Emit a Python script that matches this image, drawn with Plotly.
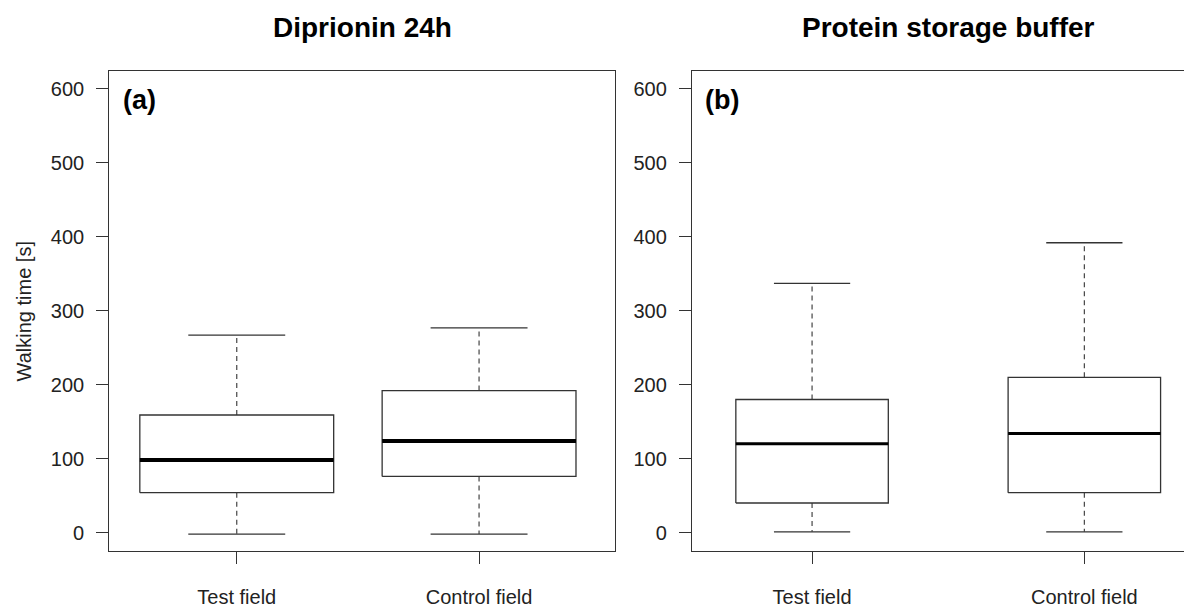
import plotly.graph_objects as go

# ---- data ----
categories = ["Test field", "Control field"]
positions = [1, 2]

# Panel (a): Diprionin 24h
a_lower = [-2, -2]
a_q1 = [54, 76]
a_median = [98, 124]
a_q3 = [159, 192]
a_upper = [267, 277]

# Panel (b): Protein storage buffer
b_lower = [1, 1]
b_q1 = [40, 54]
b_median = [120, 134]
b_q3 = [180, 210]
b_upper = [337, 392]

y_ticks = [0, 100, 200, 300, 400, 500, 600]
titles = ["Diprionin 24h", "Protein storage buffer"]
panel_tags = ["(a)", "(b)"]
y_label = "Walking time [s]"

# ---- figure ----
W, H = 1184, 608
FONT = "Liberation Sans, Arial, sans-serif"
LINE = "#333333"
TEXT = "#222222"

fig = go.Figure()


def add_boxes(xaxis, yaxis, lower, q1, med, q3, upper, half, cap_half, med_w):
    for i, c in enumerate(positions):
        # whiskers (dashed)
        for y0, y1 in [(q3[i], upper[i]), (q1[i], lower[i])]:
            fig.add_trace(go.Scatter(
                x=[c, c], y=[y0, y1], mode="lines", xaxis=xaxis, yaxis=yaxis,
                line=dict(color="#444444", width=1.2, dash="5px,4px"),
                hoverinfo="skip", showlegend=False))
        # caps
        for yv in [upper[i], lower[i]]:
            fig.add_trace(go.Scatter(
                x=[c - cap_half, c + cap_half], y=[yv, yv], mode="lines",
                xaxis=xaxis, yaxis=yaxis,
                line=dict(color=LINE, width=1.3),
                hoverinfo="skip", showlegend=False))
        # box
        fig.add_trace(go.Scatter(
            x=[c - half, c + half, c + half, c - half, c - half],
            y=[q1[i], q1[i], q3[i], q3[i], q1[i]],
            mode="lines", fill="toself", fillcolor="white",
            xaxis=xaxis, yaxis=yaxis,
            line=dict(color=LINE, width=1.3),
            hoverinfo="skip", showlegend=False))
        # median
        fig.add_trace(go.Scatter(
            x=[c - half, c + half], y=[med[i], med[i]], mode="lines",
            xaxis=xaxis, yaxis=yaxis,
            line=dict(color="black", width=med_w),
            hoverinfo="skip", showlegend=False))


add_boxes("x", "y", a_lower, a_q1, a_median, a_q3, a_upper, 0.4, 0.2, 4)
add_boxes("x2", "y2", b_lower, b_q1, b_median, b_q3, b_upper, 0.28, 0.14, 3)

left_dom = [109.3 / W, 615 / W]
right_dom = [692 / W, 1.0]
y_dom = [(H - 554) / H, (H - 71) / H]

axis_common = dict(
    showline=True, linecolor=LINE, linewidth=1.3,
    ticks="outside", ticklen=12, tickcolor=LINE, tickwidth=1.3,
    showgrid=False, zeroline=False,
    tickfont=dict(family=FONT, size=20, color=TEXT),
)

fig.update_layout(
    width=W, height=H,
    margin=dict(l=0, r=0, t=0, b=0),
    paper_bgcolor="white", plot_bgcolor="white",
    showlegend=False,
    xaxis=dict(domain=left_dom, range=[0.474, 2.561], tickvals=positions,
               ticktext=categories, mirror=True, ticklabelstandoff=16,
               anchor="y", **axis_common),
    yaxis=dict(domain=y_dom, range=[-25.3, 624.8], tickvals=y_ticks,
               mirror=True, ticklabelstandoff=8, anchor="x", **axis_common),
    xaxis2=dict(domain=right_dom, range=[0.559, 2.366], tickvals=positions,
                ticktext=categories, mirror=True, ticklabelstandoff=16,
                anchor="y2", **axis_common),
    yaxis2=dict(domain=y_dom, range=[-25.3, 624.8], tickvals=y_ticks,
                mirror=False, ticklabelstandoff=8, anchor="x2", **axis_common),
)

# titles
fig.add_annotation(text="<b>%s</b>" % titles[0], xref="paper", yref="paper",
                   x=362 / W, y=1 - 28 / H, xanchor="center", yanchor="middle",
                   showarrow=False, font=dict(family=FONT, size=28, color="black"))
fig.add_annotation(text="<b>%s</b>" % titles[1], xref="paper", yref="paper",
                   x=948 / W, y=1 - 28 / H, xanchor="center", yanchor="middle",
                   showarrow=False, font=dict(family=FONT, size=28, color="black"))

# panel tags
fig.add_annotation(text="<b>%s</b>" % panel_tags[0], xref="paper", yref="paper",
                   x=121 / W, y=1 - 100 / H, xanchor="left", yanchor="middle",
                   showarrow=False, font=dict(family=FONT, size=27, color="black"))
fig.add_annotation(text="<b>%s</b>" % panel_tags[1], xref="paper", yref="paper",
                   x=703 / W, y=1 - 100 / H, xanchor="left", yanchor="middle",
                   showarrow=False, font=dict(family=FONT, size=27, color="black"))

# y axis label
fig.add_annotation(text=y_label, xref="paper", yref="paper",
                   x=24 / W, y=1 - 313 / H, xanchor="center", yanchor="middle",
                   textangle=-90, showarrow=False,
                   font=dict(family=FONT, size=20, color=TEXT))

fig.write_html(
    "out.html",
    config={"displayModeBar": False},
    post_script="document.body.style.margin='0';document.body.style.overflow='hidden';",
)
